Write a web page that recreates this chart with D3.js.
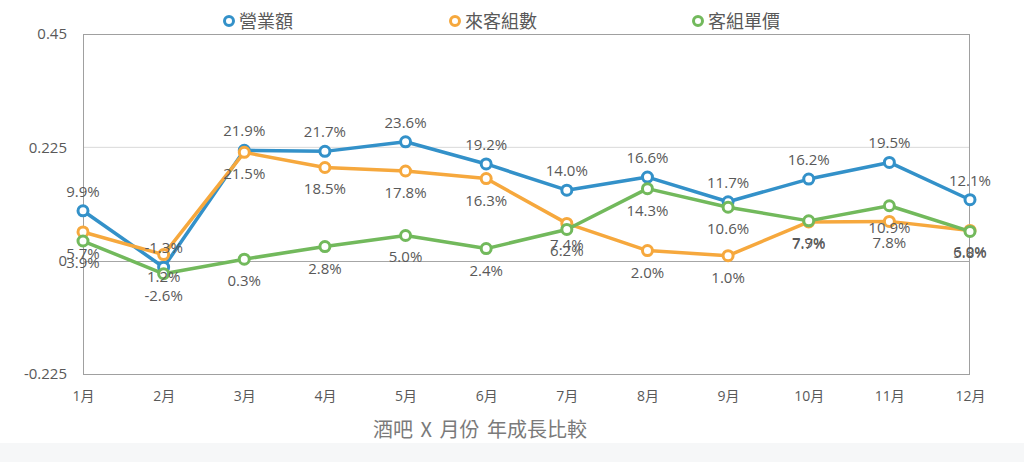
<!DOCTYPE html>
<html><head><meta charset="utf-8">
<script src="https://cdn.jsdelivr.net/npm/d3@7/dist/d3.min.js"></script>
<style>
html,body{margin:0;padding:0;background:#fff;}
svg{display:block;font-family:"Open Sans","Noto Sans CJK TC",sans-serif;}
</style></head>
<body><svg id="chart" width="1024" height="462"></svg>
<script>
const months = ["1月","2月","3月","4月","5月","6月","7月","8月","9月","10月","11月","12月"];
const revenue = [0.099,-0.013,0.219,0.217,0.236,0.192,0.140,0.166,0.117,0.162,0.195,0.121];
const guests  = [0.057,0.012,0.215,0.185,0.178,0.163,0.074,0.020,0.010,0.077,0.078,0.060];
const unitPrice = [0.039,-0.026,0.003,0.028,0.050,0.024,0.062,0.143,0.106,0.079,0.109,0.058];
const yTicks = [-0.225,0,0.225,0.45];
const yTickLabels = ["-0.225","0","0.225","0.45"];
const seriesNames = ["營業額","來客組數","客組單價"];
const title = "酒吧 X 月份 年成長比較";

const colors = ["#3391c9","#f6a83d","#72b95c"];
const labelPos = ["above","below","below"];
const seriesData = [revenue, guests, unitPrice];

const svg = d3.select("#chart");
const L = 83, R = 970, T = 34, B = 374;
svg.append("rect").attr("x",0).attr("y",443).attr("width",1024).attr("height",19).attr("fill","#f6f7f8");

const x = d3.scalePoint().domain(months).range([L,R]).padding(0);
const y = d3.scaleLinear().domain([-0.225,0.45]).range([B,T]);

// gridlines
svg.append("g").selectAll("line").data([0.225]).join("line")
  .attr("x1",L).attr("x2",R).attr("y1",d=>y(d)).attr("y2",d=>y(d))
  .attr("stroke","#d9d9d9").attr("stroke-width",1);
// frame
svg.append("rect").attr("x",L+0.5).attr("y",T+0.5).attr("width",R-L-1).attr("height",B-T)
  .attr("fill","none").attr("stroke","#a0a0a0").attr("stroke-width",1);
// zero line
svg.append("line").attr("x1",L).attr("x2",R).attr("y1",Math.round(y(0))+0.5).attr("y2",Math.round(y(0))+0.5)
  .attr("stroke","#a6a6a6").attr("stroke-width",1);

// y axis labels
const yAxis = d3.axisLeft(y).tickValues(yTicks).tickFormat((d,i)=>yTickLabels[i]).tickSize(0).tickPadding(16);
const ya = svg.append("g").attr("transform",`translate(${L},0)`).call(yAxis);
ya.select(".domain").remove();
ya.selectAll("text").attr("fill","#595959").style("font-size","15px").style("font-family","'Open Sans',sans-serif");

// x axis labels
const xAxis = d3.axisBottom(x).tickSize(0).tickPadding(17);
const xa = svg.append("g").attr("transform",`translate(0,${B})`).call(xAxis);
xa.select(".domain").remove();
xa.selectAll("text").attr("fill","#595959").style("font-size","14px").style("font-family","'Open Sans','Noto Sans CJK TC',sans-serif");

// lines & markers
const line = d3.line().x((d,i)=>x(months[i])).y(d=>y(d));
seriesData.forEach((vals,s)=>{
  const g = svg.append("g");
  g.append("path").datum(vals).attr("d",line).attr("fill","none")
    .attr("stroke",colors[s]).attr("stroke-width",3.5).attr("stroke-linejoin","round");
  g.selectAll("circle").data(vals).join("circle")
    .attr("cx",(d,i)=>x(months[i])).attr("cy",d=>y(d)).attr("r",5)
    .attr("fill","#fff").attr("stroke",colors[s]).attr("stroke-width",3);
});
// data labels
seriesData.forEach((vals,s)=>{
  svg.append("g").selectAll("text").data(vals).join("text")
    .attr("x",(d,i)=>x(months[i]))
    .attr("y",d=> labelPos[s]==="above" ? y(d)-14 : y(d)+27)
    .attr("text-anchor","middle").attr("fill","#595959")
    .style("font-size","15px")
    .text(d=>(d*100).toFixed(1)+"%");
});

// legend
const legX = [229,455,698];
seriesNames.forEach((n,i)=>{
  svg.append("circle").attr("cx",legX[i]).attr("cy",21).attr("r",4.5)
    .attr("fill","#fff").attr("stroke",colors[i]).attr("stroke-width",3);
  svg.append("text").attr("x",legX[i]+10).attr("y",28).attr("fill","#595959")
    .style("font-size","18px").style("font-family","'Noto Sans CJK TC',sans-serif").text(n);
});

// title
svg.append("text").attr("x",480).attr("y",437).attr("text-anchor","middle")
  .attr("fill","#7a7a7a").style("font-size","20px").style("word-spacing","3px")
  .style("font-family","'Noto Sans CJK TC',sans-serif").text(title);
</script></body></html>
